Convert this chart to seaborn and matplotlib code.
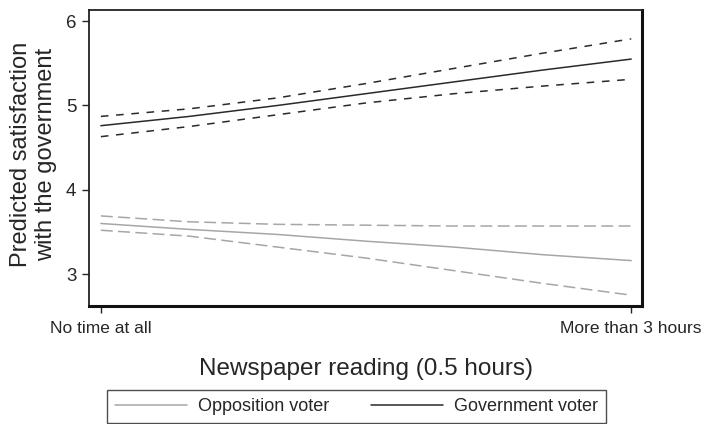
import pandas as pd
import matplotlib
matplotlib.use('Agg')
import matplotlib.pyplot as plt
import seaborn as sns
from matplotlib.lines import Line2D

# newspaper reading, 0.5 hour steps (0 = no time at all, 6 = more than 3 hours)
reading = [0, 1, 2, 3, 4, 5, 6]

gov_fit = [4.76, 4.87, 5.00, 5.14, 5.28, 5.42, 5.55]
gov_upper = [4.87, 4.96, 5.09, 5.26, 5.44, 5.62, 5.79]
gov_lower = [4.63, 4.75, 4.89, 5.03, 5.14, 5.23, 5.31]

opp_fit = [3.60, 3.53, 3.47, 3.39, 3.32, 3.23, 3.16]
opp_upper = [3.69, 3.62, 3.59, 3.58, 3.57, 3.57, 3.57]
opp_lower = [3.52, 3.45, 3.32, 3.19, 3.04, 2.89, 2.75]

tick_labels = ['No time at all', 'More than 3 hours']
group_names = ['Opposition voter', 'Government voter']

sns.set_style('white')
plt.rcParams['font.family'] = ['Liberation Sans', 'DejaVu Sans']

rows = []
for name, fit, up, lo in [(group_names[0], opp_fit, opp_upper, opp_lower),
                          (group_names[1], gov_fit, gov_upper, gov_lower)]:
    for kind, vals in [('fit', fit), ('upper', up), ('lower', lo)]:
        for x, v in zip(reading, vals):
            rows.append({'reading': x, 'value': v, 'group': name, 'kind': kind})
df = pd.DataFrame(rows)

colors = {'Opposition voter': '#a6a6a6', 'Government voter': '#2a2a2a'}
ci_dash = {'Opposition voter': (7.8, 3.5), 'Government voter': (5.0, 5.0)}

fig = plt.figure(figsize=(7.05, 4.24), dpi=100)
ax = fig.add_axes([0.126, 0.278, 0.785, 0.698])

for name in group_names:
    for kind in ['fit', 'upper', 'lower']:
        sub = df[(df['group'] == name) & (df['kind'] == kind)]
        sns.lineplot(data=sub, x='reading', y='value', ax=ax,
                     color=colors[name], linewidth=1.1, legend=False)
        if kind != 'fit':
            ax.lines[-1].set_dashes(ci_dash[name])

ax.set_xlim(-0.136, 6.125)
ax.set_ylim(2.62, 6.13)
ax.set_xticks([reading[0], reading[-1]])
ax.set_xticklabels(tick_labels, fontsize=12.5)
ax.set_yticks([3, 4, 5, 6])
ax.tick_params(axis='y', labelsize=13.5, length=5, width=1, direction='out', left=True, pad=4)
ax.tick_params(axis='x', length=5, width=1, direction='out', bottom=True, pad=6)

ax.set_xlabel('Newspaper reading (0.5 hours)', fontsize=17.5)
ax.xaxis.set_label_coords(0.5, -0.176)
ax.set_ylabel('Predicted satisfaction\nwith the government', fontsize=17,
              linespacing=1.15)
ax.yaxis.set_label_coords(-0.058, 0.514)

for side in ['top', 'left']:
    ax.spines[side].set_linewidth(1.3)
    ax.spines[side].set_color('#222222')
for side in ['bottom', 'right']:
    ax.spines[side].set_linewidth(2.2)
    ax.spines[side].set_color('#111111')

handles = [Line2D([0], [0], color=colors[n], linewidth=1.1) for n in group_names]
leg = fig.legend(handles, group_names, ncol=2, loc='lower left',
                 bbox_to_anchor=(107 / 705, 1 / 424), frameon=True, fontsize=13,
                 handlelength=4.0, columnspacing=2.3, handletextpad=0.6,
                 borderpad=0.45, borderaxespad=0, fancybox=False)
leg.get_frame().set_edgecolor('#222222')
leg.get_frame().set_linewidth(1.0)

fig.savefig('out.png', dpi=100)
